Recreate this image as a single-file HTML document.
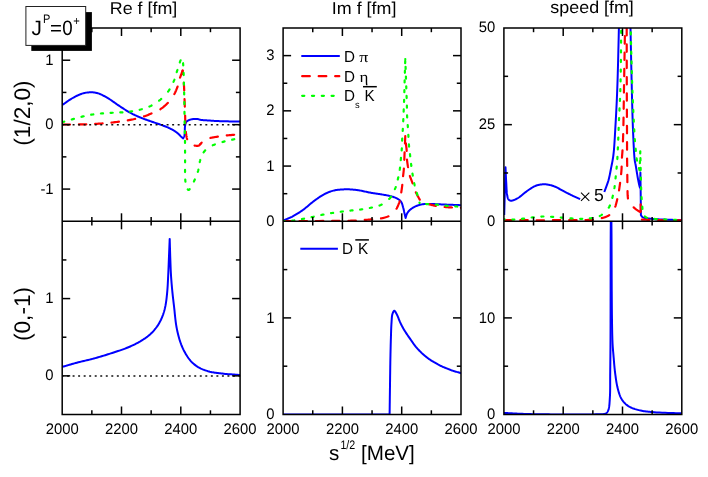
<!DOCTYPE html>
<html><head><meta charset="utf-8"><title>chart</title>
<style>
html,body{margin:0;padding:0;background:#fff;}
body{width:708px;height:477px;overflow:hidden;}
svg{display:block;will-change:transform;}
svg text{font-family:"Liberation Sans",sans-serif;fill:#000;text-rendering:geometricPrecision;}
</style></head><body>
<svg width="708" height="477" viewBox="0 0 708 477">
<rect width="100%" height="100%" fill="#fff"/>
<defs>
<clipPath id="c1"><rect x="62.20" y="28.00" width="177.90" height="193.30"/></clipPath>
<clipPath id="c4"><rect x="62.20" y="221.30" width="177.90" height="193.20"/></clipPath>
<clipPath id="c2"><rect x="283.10" y="28.00" width="177.90" height="193.30"/></clipPath>
<clipPath id="c5"><rect x="283.10" y="221.30" width="177.90" height="193.20"/></clipPath>
<clipPath id="c3"><rect x="503.90" y="28.00" width="177.90" height="193.30"/></clipPath>
<clipPath id="c6"><rect x="503.90" y="221.30" width="177.90" height="193.20"/></clipPath>
</defs>
<g clip-path="url(#c1)"><path d="M62.20 105.00 L63.07 104.41 L63.95 103.81 L64.82 103.20 L65.69 102.59 L66.56 101.97 L67.43 101.36 L68.30 100.76 L69.17 100.17 L70.05 99.60 L70.93 99.04 L71.81 98.51 L72.70 98.00 L73.54 97.54 L74.39 97.08 L75.24 96.63 L76.10 96.19 L76.96 95.77 L77.82 95.36 L78.68 94.97 L79.53 94.60 L80.38 94.25 L81.23 93.94 L82.07 93.65 L82.90 93.40 L83.62 93.21 L84.33 93.03 L85.05 92.88 L85.76 92.74 L86.47 92.63 L87.18 92.53 L87.88 92.45 L88.57 92.39 L89.27 92.34 L89.95 92.31 L90.63 92.30 L91.30 92.30 L91.90 92.31 L92.49 92.34 L93.08 92.37 L93.65 92.42 L94.22 92.49 L94.79 92.56 L95.36 92.66 L95.93 92.77 L96.51 92.90 L97.09 93.05 L97.69 93.21 L98.30 93.40 L99.09 93.67 L99.89 93.98 L100.71 94.33 L101.54 94.71 L102.39 95.12 L103.23 95.55 L104.09 96.00 L104.94 96.46 L105.79 96.94 L106.63 97.43 L107.47 97.91 L108.30 98.40 L109.16 98.92 L110.02 99.47 L110.87 100.04 L111.72 100.62 L112.57 101.22 L113.42 101.82 L114.26 102.43 L115.11 103.04 L115.95 103.64 L116.80 104.24 L117.65 104.83 L118.50 105.40 L119.34 105.95 L120.18 106.51 L121.01 107.06 L121.85 107.61 L122.69 108.16 L123.52 108.70 L124.36 109.24 L125.20 109.77 L126.05 110.29 L126.90 110.81 L127.75 111.31 L128.60 111.80 L129.44 112.27 L130.27 112.73 L131.11 113.18 L131.94 113.62 L132.78 114.06 L133.63 114.48 L134.47 114.90 L135.33 115.32 L136.18 115.72 L137.05 116.12 L137.92 116.51 L138.80 116.90 L139.72 117.29 L140.66 117.67 L141.60 118.04 L142.56 118.40 L143.52 118.75 L144.49 119.10 L145.45 119.44 L146.42 119.78 L147.38 120.11 L148.33 120.44 L149.27 120.77 L150.20 121.10 L151.06 121.41 L151.92 121.71 L152.78 122.00 L153.64 122.29 L154.48 122.58 L155.33 122.86 L156.17 123.15 L157.01 123.43 L157.84 123.72 L158.66 124.01 L159.49 124.30 L160.30 124.60 L161.07 124.88 L161.83 125.16 L162.59 125.43 L163.35 125.71 L164.10 125.99 L164.85 126.26 L165.59 126.55 L166.33 126.84 L167.06 127.14 L167.78 127.45 L168.49 127.77 L169.20 128.10 L169.88 128.43 L170.56 128.78 L171.25 129.13 L171.93 129.49 L172.60 129.86 L173.27 130.24 L173.92 130.62 L174.56 131.01 L175.18 131.40 L175.78 131.80 L176.35 132.20 L176.90 132.60 L177.33 132.94 L177.76 133.30 L178.17 133.67 L178.56 134.04 L178.95 134.42 L179.32 134.80 L179.68 135.17 L180.03 135.54 L180.36 135.89 L180.69 136.21 L181.00 136.52 L181.30 136.80 L181.48 136.96 L181.66 137.12 L181.82 137.26 L181.99 137.40 L182.14 137.53 L182.29 137.65 L182.44 137.78 L182.59 137.90 L182.74 138.02 L182.89 138.14 L183.04 138.27 L183.20 138.40 L183.31 138.13 L183.42 137.87 L183.54 137.62 L183.66 137.37 L183.78 137.12 L183.89 136.87 L184.01 136.61 L184.12 136.34 L184.22 136.06 L184.32 135.76 L184.42 135.44 L184.50 135.10 L184.61 134.47 L184.69 133.76 L184.74 132.98 L184.78 132.15 L184.80 131.28 L184.81 130.39 L184.83 129.50 L184.84 128.63 L184.88 127.78 L184.92 126.99 L185.00 126.25 L185.10 125.60 L185.18 125.21 L185.25 124.84 L185.32 124.48 L185.39 124.13 L185.46 123.80 L185.55 123.48 L185.64 123.17 L185.75 122.88 L185.88 122.59 L186.03 122.32 L186.20 122.05 L186.40 121.80 L186.65 121.53 L186.94 121.28 L187.25 121.04 L187.59 120.82 L187.95 120.61 L188.33 120.41 L188.73 120.23 L189.13 120.06 L189.55 119.91 L189.96 119.76 L190.38 119.62 L190.80 119.50 L191.29 119.37 L191.80 119.26 L192.34 119.17 L192.89 119.10 L193.45 119.04 L194.01 118.99 L194.58 118.96 L195.14 118.95 L195.69 118.94 L196.22 118.95 L196.72 118.97 L197.20 119.00 L197.55 119.04 L197.88 119.09 L198.19 119.15 L198.49 119.23 L198.79 119.31 L199.08 119.40 L199.37 119.50 L199.67 119.59 L199.98 119.68 L200.30 119.76 L200.64 119.84 L201.00 119.90 L201.54 119.98 L202.10 120.05 L202.69 120.11 L203.29 120.16 L203.92 120.21 L204.56 120.25 L205.22 120.29 L205.88 120.33 L206.56 120.37 L207.24 120.41 L207.92 120.46 L208.60 120.50 L209.40 120.55 L210.21 120.61 L211.03 120.66 L211.87 120.72 L212.72 120.77 L213.58 120.83 L214.44 120.88 L215.31 120.93 L216.18 120.97 L217.05 121.02 L217.93 121.06 L218.80 121.10 L219.72 121.14 L220.64 121.17 L221.58 121.20 L222.52 121.23 L223.46 121.25 L224.40 121.28 L225.35 121.30 L226.29 121.32 L227.23 121.34 L228.16 121.36 L229.09 121.38 L230.00 121.40 L230.86 121.42 L231.71 121.44 L232.56 121.46 L233.41 121.47 L234.25 121.49 L235.08 121.51 L235.92 121.52 L236.75 121.54 L237.59 121.55 L238.42 121.57 L239.26 121.58 L240.10 121.60" fill="none" stroke="#0000ff" stroke-width="2.0" stroke-linejoin="round" stroke-linecap="butt"/></g>
<g clip-path="url(#c1)"><path d="M62.58 124.50 L63.86 124.49 L65.52 124.49 L67.19 124.49 L68.87 124.49 L70.02 124.49 M78.88 124.46 L80.41 124.43 L82.00 124.40 L83.43 124.36 L84.84 124.33 L86.23 124.28 L86.32 124.28 M95.18 123.90 L95.77 123.87 L97.13 123.79 L98.50 123.70 L99.88 123.61 L101.25 123.51 L102.62 123.41 M111.48 122.60 L112.25 122.52 L113.63 122.36 L115.00 122.20 L116.39 122.03 L117.79 121.85 L118.92 121.71 M127.78 120.39 L128.92 120.19 L130.23 119.95 L131.50 119.70 L132.56 119.48 L133.60 119.26 L134.63 119.03 L135.22 118.89 M144.08 116.41 L144.66 116.21 L145.37 115.95 L146.06 115.70 L146.74 115.44 L147.41 115.17 L148.07 114.90 L148.73 114.63 L149.39 114.35 L150.06 114.07 L150.72 113.79 L151.40 113.50 L151.52 113.45 M160.38 109.25 L160.43 109.22 L161.15 108.72 L161.88 108.19 L162.61 107.63 L163.33 107.05 L164.04 106.45 L164.74 105.84 L165.43 105.22 L166.10 104.60 L166.76 103.96 L167.39 103.33 L167.81 102.90 M174.36 94.04 L174.46 93.86 L174.81 93.17 L175.16 92.47 L175.49 91.77 L175.81 91.06 L176.12 90.35 L176.41 89.64 L176.70 88.93 L176.98 88.21 L177.24 87.50 L177.50 86.80 L177.57 86.60 M180.04 77.74 L180.15 77.43 L180.38 76.75 L180.62 76.07 L180.86 75.38 L181.11 74.70 L181.36 74.02 L181.61 73.33 L181.86 72.65 L182.11 71.97 L182.36 71.28 L182.60 70.60" fill="none" stroke="#ff0000" stroke-width="2.2" stroke-linejoin="round" stroke-linecap="round"/></g>
<g clip-path="url(#c1)"><path d="M182.60 70.60 L182.71 71.76 L182.82 72.92 L182.94 74.02 M183.78 82.88 L183.82 83.34 L183.90 84.50 L183.97 85.65 L184.04 86.79 L184.10 87.92 L184.15 89.06 L184.20 90.19 L184.21 90.32 M184.53 99.18 L184.55 99.63 L184.61 100.99 L184.66 102.36 L184.71 103.76 L184.76 105.16 L184.81 106.57 L184.82 106.62 M185.12 115.48 L185.14 115.97 L185.17 117.15 L185.19 118.33 L185.22 119.51 L185.25 120.68 L185.27 121.83 L185.30 122.92 M185.83 131.78 L185.86 131.98 L185.91 132.43 L185.97 132.88 L186.03 133.34 L186.10 133.80 L186.16 134.24 L186.22 134.68 L186.28 135.11 L186.33 135.55 L186.39 135.98 L186.46 136.41 L186.53 136.84 L186.62 137.26 L186.71 137.68 L186.82 138.09 L186.95 138.50 L187.10 138.90 L187.23 139.22 M194.56 145.56 L194.67 145.58 L195.06 145.65 L195.46 145.72 L195.87 145.77 L196.29 145.81 L196.69 145.84 L197.10 145.85 L197.48 145.84 L197.85 145.81 L198.20 145.76 L198.52 145.69 L198.80 145.60 L198.98 145.52 L199.14 145.41 L199.29 145.30 L199.43 145.17 L199.56 145.03 L199.68 144.89 L199.80 144.74 L199.92 144.58 L200.03 144.43 L200.15 144.28 L200.27 144.14 L200.40 144.00" fill="none" stroke="#ff0000" stroke-width="2.2" stroke-linejoin="round" stroke-linecap="round"/></g>
<g clip-path="url(#c1)"><path d="M200.40 144.00 L200.70 143.70 L200.98 143.40 L201.27 143.09 L201.55 142.78 L201.64 142.68 M210.45 137.94 L210.74 137.87 L211.38 137.73 L212.04 137.59 L212.71 137.46 L213.40 137.35 L214.08 137.23 L214.77 137.12 L215.46 137.02 L216.15 136.91 L216.83 136.81 L217.50 136.70 L217.89 136.64 M226.75 135.45 L226.98 135.43 L227.80 135.34 L228.64 135.26 L229.48 135.18 L230.33 135.10 L231.16 135.03 L231.99 134.96 L232.79 134.89 L233.56 134.82 L234.19 134.77" fill="none" stroke="#ff0000" stroke-width="2.2" stroke-linejoin="round" stroke-linecap="round"/></g>
<g clip-path="url(#c1)"><path d="M62.20 122.20 L63.02 121.97 L63.85 121.73 L64.24 121.62 M71.80 119.48 L72.10 119.40 L72.94 119.16 L73.78 118.92 L73.94 118.88 M81.50 116.77 L82.20 116.60 L83.00 116.41 L83.64 116.26 M91.20 114.70 L91.80 114.60 L92.63 114.47 L93.34 114.36 M100.90 113.49 L101.07 113.48 L101.90 113.40 L102.71 113.33 L103.04 113.30 M110.60 112.85 L110.70 112.84 L111.50 112.80 L112.32 112.76 L112.74 112.74 M120.30 112.47 L120.58 112.45 L121.40 112.40 L122.22 112.34 L122.44 112.32 M130.00 111.57 L130.39 111.52 L131.20 111.40 L132.00 111.28 L132.14 111.26 M139.70 109.76 L139.91 109.71 L140.70 109.50 L141.54 109.27 L141.84 109.18 M149.40 106.55 L149.98 106.29 L150.80 105.90 L151.54 105.52 M159.10 100.71 L159.85 100.12 L160.60 99.50 L161.24 98.94 M168.08 91.52 L168.60 90.80 L169.13 90.03 L169.56 89.38 M173.50 81.82 L173.54 81.75 L173.90 80.90 L174.23 80.08 L174.38 79.68 M176.72 72.12 L176.84 71.73 L177.10 70.90 L177.37 70.06 L177.39 69.98 M179.82 62.42 L179.83 62.37 L180.07 61.66 L180.30 61.00 L180.43 60.63 L180.56 60.28" fill="none" stroke="#00ff00" stroke-width="2.2" stroke-linejoin="round" stroke-linecap="round"/></g>
<g clip-path="url(#c1)"><path d="M183.04 63.23 L183.09 63.62 L183.18 64.39 L183.25 65.18 L183.26 65.37 M183.61 72.93 L183.63 73.59 L183.67 74.36 L183.69 75.07 M183.91 82.63 L183.93 83.58 L183.96 84.77 M184.14 92.33 L184.18 93.82 L184.19 94.47 M184.34 102.03 L184.36 103.26 L184.37 104.17 M184.48 111.73 L184.50 113.29 L184.51 113.87 M184.63 121.43 L184.63 121.66 L184.66 123.33 L184.67 123.57 M184.84 131.13 L184.85 131.62 L184.88 133.27 M185.01 140.83 L185.02 141.76 L185.03 142.97 M185.06 150.53 L185.06 150.68 L185.07 152.48 L185.07 152.67 M185.09 160.23 L185.10 161.30 L185.10 162.37 M185.06 169.93 L185.05 171.48 L185.05 172.07 M185.25 179.63 L185.30 180.30 L185.37 180.99 L185.43 181.65 L185.44 181.77 M187.72 189.33 L187.84 189.49 L188.03 189.70 L188.22 189.86 L188.41 189.96 L188.60 190.00 L188.79 189.97 L188.98 189.87 L189.18 189.72 L189.38 189.51 L189.58 189.26 L189.70 189.09 M193.89 181.53 L193.93 181.45 L194.22 180.83 L194.50 180.20 L194.83 179.46 L194.86 179.39 M197.80 171.83 L197.96 171.31 L198.20 170.50 L198.40 169.73 L198.41 169.69 M199.75 162.13 L199.76 162.07 L199.90 161.30 L200.03 160.86 L200.15 160.41 L200.26 159.99 M203.57 152.43 L203.63 152.35 L203.94 151.92 L204.25 151.50 L204.58 151.09 L204.90 150.70 L205.21 150.34 L205.25 150.29 M212.75 145.25 L213.20 145.08 L213.72 144.90 L214.25 144.70 L214.80 144.50 L214.89 144.47 M222.45 142.03 L223.00 141.87 L223.86 141.63 L224.59 141.43 M232.15 139.68 L232.67 139.57 L233.49 139.40 L234.26 139.25 L234.29 139.24" fill="none" stroke="#00ff00" stroke-width="2.2" stroke-linejoin="round" stroke-linecap="round"/></g>
<g clip-path="url(#c2)"><path d="M283.20 221.20 L283.30 221.12 L283.38 221.04 L283.47 220.96 L283.55 220.88 L283.63 220.80 L283.72 220.72 L283.81 220.64 L283.90 220.56 L284.01 220.47 L284.12 220.39 L284.25 220.30 L284.40 220.20 L284.82 219.96 L285.34 219.70 L285.93 219.43 L286.58 219.14 L287.29 218.84 L288.04 218.53 L288.82 218.20 L289.61 217.86 L290.41 217.51 L291.20 217.15 L291.97 216.78 L292.70 216.40 L293.53 215.95 L294.36 215.48 L295.21 214.99 L296.06 214.48 L296.92 213.96 L297.79 213.43 L298.65 212.88 L299.51 212.32 L300.37 211.75 L301.22 211.18 L302.06 210.59 L302.90 210.00 L303.76 209.37 L304.61 208.71 L305.45 208.04 L306.29 207.35 L307.13 206.64 L307.96 205.93 L308.79 205.22 L309.63 204.52 L310.46 203.81 L311.30 203.13 L312.15 202.45 L313.00 201.80 L313.84 201.17 L314.67 200.55 L315.51 199.92 L316.35 199.30 L317.19 198.68 L318.04 198.07 L318.89 197.48 L319.74 196.90 L320.60 196.34 L321.46 195.80 L322.33 195.29 L323.20 194.80 L324.03 194.36 L324.86 193.93 L325.70 193.51 L326.55 193.12 L327.39 192.73 L328.24 192.37 L329.10 192.02 L329.95 191.69 L330.81 191.38 L331.67 191.10 L332.54 190.84 L333.40 190.60 L334.25 190.40 L335.12 190.22 L336.01 190.07 L336.91 189.95 L337.81 189.84 L338.70 189.75 L339.59 189.67 L340.45 189.60 L341.29 189.55 L342.10 189.50 L342.87 189.45 L343.60 189.40 L344.07 189.37 L344.51 189.34 L344.93 189.32 L345.33 189.30 L345.72 189.28 L346.10 189.27 L346.48 189.26 L346.87 189.26 L347.27 189.26 L347.69 189.27 L348.13 189.28 L348.60 189.30 L349.32 189.33 L350.09 189.38 L350.89 189.43 L351.72 189.49 L352.58 189.56 L353.45 189.64 L354.34 189.73 L355.24 189.83 L356.14 189.94 L357.04 190.05 L357.92 190.17 L358.80 190.30 L359.72 190.45 L360.65 190.62 L361.58 190.80 L362.52 191.00 L363.46 191.20 L364.40 191.41 L365.35 191.62 L366.29 191.83 L367.22 192.04 L368.16 192.24 L369.08 192.43 L370.00 192.60 L370.87 192.75 L371.73 192.90 L372.58 193.03 L373.43 193.16 L374.28 193.29 L375.13 193.42 L375.98 193.54 L376.82 193.67 L377.67 193.79 L378.51 193.92 L379.35 194.06 L380.20 194.20 L381.05 194.34 L381.91 194.49 L382.78 194.63 L383.65 194.77 L384.52 194.91 L385.38 195.06 L386.24 195.21 L387.09 195.37 L387.92 195.54 L388.73 195.71 L389.53 195.90 L390.30 196.10 L390.94 196.27 L391.58 196.45 L392.21 196.63 L392.84 196.82 L393.45 197.01 L394.05 197.20 L394.64 197.41 L395.21 197.62 L395.77 197.85 L396.30 198.08 L396.81 198.33 L397.30 198.60 L397.68 198.82 L398.05 199.05 L398.41 199.28 L398.76 199.51 L399.10 199.75 L399.42 200.01 L399.73 200.27 L400.03 200.54 L400.31 200.83 L400.59 201.13 L400.85 201.46 L401.10 201.80 L401.37 202.23 L401.61 202.69 L401.84 203.18 L402.04 203.70 L402.23 204.24 L402.40 204.79 L402.56 205.35 L402.72 205.91 L402.86 206.47 L403.01 207.03 L403.15 207.57 L403.30 208.10 L403.44 208.59 L403.56 209.09 L403.68 209.58 L403.79 210.08 L403.90 210.58 L404.00 211.07 L404.11 211.56 L404.20 212.05 L404.30 212.52 L404.40 212.99 L404.50 213.45 L404.60 213.90 L404.69 214.27 L404.77 214.62 L404.86 214.98 L404.94 215.32 L405.02 215.66 L405.11 215.99 L405.19 216.33 L405.27 216.66 L405.35 216.99 L405.43 217.32 L405.52 217.66 L405.60 218.00 L405.70 217.66 L405.80 217.31 L405.90 216.96 L405.99 216.61 L406.08 216.26 L406.18 215.91 L406.27 215.57 L406.38 215.22 L406.49 214.88 L406.61 214.55 L406.75 214.22 L406.90 213.90 L407.06 213.59 L407.23 213.28 L407.40 212.97 L407.59 212.67 L407.78 212.37 L407.98 212.08 L408.18 211.79 L408.40 211.51 L408.63 211.22 L408.88 210.95 L409.13 210.67 L409.40 210.40 L409.74 210.08 L410.11 209.76 L410.49 209.44 L410.90 209.13 L411.32 208.82 L411.75 208.52 L412.19 208.23 L412.65 207.94 L413.11 207.67 L413.57 207.40 L414.04 207.14 L414.50 206.90 L414.99 206.66 L415.49 206.42 L416.00 206.19 L416.52 205.97 L417.04 205.76 L417.57 205.56 L418.11 205.38 L418.65 205.20 L419.18 205.03 L419.72 204.87 L420.26 204.73 L420.80 204.60 L421.32 204.49 L421.83 204.38 L422.34 204.30 L422.85 204.22 L423.36 204.16 L423.87 204.10 L424.39 204.05 L424.92 204.01 L425.46 203.98 L426.02 203.95 L426.60 203.92 L427.20 203.90 L428.04 203.88 L428.92 203.88 L429.83 203.89 L430.78 203.92 L431.75 203.96 L432.73 204.00 L433.73 204.05 L434.73 204.11 L435.72 204.16 L436.70 204.21 L437.66 204.26 L438.60 204.30 L439.47 204.33 L440.32 204.36 L441.17 204.40 L442.01 204.43 L442.84 204.46 L443.68 204.50 L444.51 204.53 L445.35 204.56 L446.20 204.60 L447.05 204.63 L447.92 204.66 L448.80 204.70 L449.78 204.74 L450.77 204.78 L451.77 204.82 L452.79 204.86 L453.81 204.90 L454.83 204.95 L455.86 204.99 L456.89 205.03 L457.92 205.07 L458.95 205.12 L459.98 205.16 L461.00 205.20" fill="none" stroke="#0000ff" stroke-width="2.0" stroke-linejoin="round" stroke-linecap="butt"/></g>
<g clip-path="url(#c2)"><path d="M284.00 221.00 L289.40 220.99 L290.67 220.99 M299.53 220.98 L300.86 220.98 L306.75 220.98 L306.97 220.98 M315.83 220.98 L318.46 220.98 L323.27 220.97 M332.13 220.95 L334.58 220.94 L339.24 220.90 L339.57 220.90 M348.43 220.77 L348.43 220.77 L349.76 220.74 L350.99 220.70 L352.15 220.67 L353.23 220.63 L354.26 220.59 L355.25 220.55 L355.87 220.52 M364.73 219.96 L365.26 219.92 L365.99 219.86 L366.72 219.79 L367.46 219.73 L368.22 219.67 L369.00 219.60 L369.90 219.53 L370.81 219.47 L371.75 219.41 L372.17 219.39 M381.03 218.44 L381.80 218.28 L382.61 218.10 L383.41 217.92 L384.20 217.72 L384.98 217.51 L385.74 217.29 L386.48 217.06 L387.19 216.81 L387.87 216.55 L388.47 216.30 M396.51 208.70 L396.81 208.16 L397.16 207.47 L397.52 206.73 L397.87 205.97 L398.21 205.18 L398.54 204.38 L398.85 203.57 L399.15 202.77 L399.42 201.99 L399.67 201.26 M401.27 192.40 L401.33 191.99 L401.45 191.19 L401.56 190.39 L401.68 189.57 L401.80 188.75 L401.91 187.93 L402.02 187.12 L402.12 186.31 L402.22 185.52 L402.29 184.96 M403.09 176.10 L403.14 175.65 L403.22 174.97 L403.29 174.30 L403.37 173.62 L403.46 172.92 L403.54 172.22 L403.62 171.50 L403.69 170.76 L403.77 170.00 L403.84 169.21 L403.88 168.66 M404.32 159.80 L404.34 159.28 L404.39 157.87 L404.44 156.46 L404.49 155.05 L404.54 153.66 L404.60 152.36 M404.97 143.50 L405.01 142.69 L405.07 141.31 L405.13 139.93 L405.18 138.55 L405.24 137.18 L405.29 136.06" fill="none" stroke="#ff0000" stroke-width="2.2" stroke-linejoin="round" stroke-linecap="round"/></g>
<g clip-path="url(#c2)"><path d="M405.89 143.38 L405.94 143.86 L406.02 144.57 L406.10 145.28 L406.19 145.99 L406.27 146.72 L406.36 147.44 L406.44 148.16 L406.52 148.88 L406.59 149.60 L406.65 150.30 L406.69 150.82 M407.00 159.68 L407.04 160.06 L407.12 160.80 L407.21 161.55 L407.31 162.31 L407.41 163.07 L407.52 163.83 L407.63 164.58 L407.75 165.33 L407.87 166.07 L407.98 166.79 L408.04 167.12 M409.89 175.98 L409.92 176.10 L410.16 176.80 L410.41 177.52 L410.67 178.23 L410.95 178.95 L411.22 179.68 L411.50 180.40 L411.78 181.13 L412.06 181.85 L412.33 182.58 L412.60 183.30 L412.64 183.42 M415.84 192.28 L416.12 192.91 L416.46 193.62 L416.82 194.32 L417.18 195.01 L417.55 195.70 L417.92 196.39 L418.31 197.07 L418.69 197.75 L419.07 198.44 L419.45 199.12 L419.78 199.72 M428.28 204.04 L428.50 204.10 L429.06 204.25 L429.65 204.41 L430.26 204.58 L430.88 204.75 L431.52 204.92 L432.17 205.10 L432.83 205.27 L433.49 205.43 L434.15 205.59 L434.80 205.74 L435.46 205.88 L435.72 205.93 M444.58 206.98 L445.06 207.02 L445.74 207.08 L446.43 207.14 L447.11 207.19 L447.80 207.24 L448.50 207.29 L449.19 207.34 L449.89 207.38 L450.59 207.42 L451.30 207.46 L452.00 207.50 L452.02 207.50 M460.88 207.80 L461.00 207.80" fill="none" stroke="#ff0000" stroke-width="2.2" stroke-linejoin="round" stroke-linecap="round"/></g>
<g clip-path="url(#c2)"><path d="M284.00 221.20 L284.67 221.15 M292.23 220.62 L292.52 220.59 L293.30 220.50 L294.10 220.40 L294.37 220.36 M301.93 219.08 L302.10 219.05 L302.90 218.90 L303.69 218.75 L304.07 218.68 M311.63 217.16 L312.40 217.00 L313.24 216.82 L313.77 216.70 M321.33 214.97 L321.76 214.87 L322.60 214.70 L323.40 214.54 L323.47 214.53 M331.03 213.17 L331.30 213.13 L332.10 213.00 L332.91 212.87 L333.17 212.83 M340.73 211.76 L341.08 211.71 L341.90 211.60 L342.72 211.49 L342.87 211.47 M350.43 210.56 L350.98 210.49 L351.80 210.40 L352.57 210.32 M360.13 209.56 L360.61 209.50 L361.40 209.40 L362.17 209.29 L362.27 209.28 M369.83 207.97 L370.60 207.80 L371.44 207.62 L371.97 207.51 M379.53 205.56 L379.99 205.37 L380.80 205.00 L381.65 204.56 L381.67 204.55 M389.22 198.88 L389.67 198.42 L390.30 197.70 L390.85 197.01 L391.04 196.74 M394.89 189.18 L395.20 188.40 L395.51 187.61 L395.71 187.04 M397.79 179.48 L397.80 179.43 L398.00 178.60 L398.19 177.77 L398.29 177.34 M399.72 169.78 L399.78 169.44 L399.90 168.60 L400.01 167.77 L400.03 167.64 M400.76 160.08 L400.82 159.43 L400.90 158.60 L400.96 157.94 M401.69 150.38 L401.74 149.70 L401.80 148.90 L401.84 148.24 M402.14 140.68 L402.16 140.20 L402.20 139.40 L402.24 138.58 L402.25 138.54 M402.71 130.98 L402.75 130.32 L402.80 129.50 L402.84 128.84 M403.23 121.28 L403.26 120.51 L403.30 119.70 L403.33 119.14 M403.64 111.58 L403.67 110.99 L403.70 110.20 L403.73 109.44 M404.05 101.88 L404.07 101.56 L404.10 100.60 L404.13 99.74 M404.35 92.18 L404.39 90.50 L404.40 90.04 M404.60 82.48 L404.63 81.27 L404.65 80.34 M404.87 72.78 L404.89 72.12 L404.93 70.74 L404.93 70.64 M405.17 63.08 L405.18 62.91 L405.22 61.62 L405.24 60.94" fill="none" stroke="#00ff00" stroke-width="2.2" stroke-linejoin="round" stroke-linecap="round"/></g>
<g clip-path="url(#c2)"><path d="M405.30 59.00 L405.31 59.27 M405.57 66.83 L405.60 67.77 L405.65 68.97 M405.91 76.53 L405.91 76.53 L405.98 78.67 M406.24 86.23 L406.26 86.86 L406.32 88.37 M406.58 95.93 L406.59 96.16 L406.65 97.96 L406.65 98.07 M406.89 105.63 L406.90 106.10 L406.92 107.08 L406.94 107.77 M407.06 115.33 L407.07 115.47 L407.10 116.30 L407.14 117.12 L407.16 117.47 M407.72 125.03 L407.74 125.29 L407.80 126.10 L407.85 126.91 L407.87 127.17 M408.33 134.73 L408.35 134.99 L408.40 135.80 L408.45 136.61 L408.46 136.87 M408.91 144.43 L408.93 144.69 L409.00 145.50 L409.07 146.32 L409.10 146.57 M409.96 154.13 L410.01 154.49 L410.10 155.30 L410.19 156.11 L410.21 156.27 M411.05 163.83 L411.10 164.20 L411.20 165.00 L411.30 165.80 L411.33 165.97 M412.44 173.53 L412.47 173.70 L412.60 174.50 L412.74 175.33 L412.80 175.67 M414.19 183.23 L414.31 183.78 L414.50 184.60 L414.68 185.36 L414.69 185.37 M416.84 192.93 L417.00 193.50 L417.22 194.28 L417.43 195.06 L417.43 195.07 M419.50 202.63 L419.60 203.00" fill="none" stroke="#00ff00" stroke-width="2.2" stroke-linejoin="round" stroke-linecap="round"/></g>
<g clip-path="url(#c2)"><path d="M426.13 204.08 L426.41 204.08 L426.79 204.09 L427.20 204.10 L427.82 204.13 L428.27 204.14 M435.83 204.59 L436.00 204.60 L436.83 204.68 L437.67 204.77 L437.97 204.80 M445.53 205.72 L446.30 205.80 L447.16 205.88 L447.67 205.92 M455.23 206.43 L455.70 206.46 L456.40 206.50 L456.85 206.52 L457.27 206.55 L457.37 206.55" fill="none" stroke="#00ff00" stroke-width="2.2" stroke-linejoin="round" stroke-linecap="round"/></g>
<g clip-path="url(#c3)"><path d="M504.20 215.00 L504.23 213.77 L504.26 212.57 L504.30 211.39 L504.33 210.21 L504.36 209.04 L504.39 207.86 L504.42 206.66 L504.45 205.43 L504.49 204.16 L504.52 202.83 L504.56 201.45 L504.60 200.00 L504.66 197.72 L504.73 195.28 L504.80 192.71 L504.87 190.03 L504.95 187.27 L505.03 184.44 L505.11 181.56 L505.19 178.67 L505.27 175.77 L505.35 172.90 L505.42 170.07 L505.50 167.30 L505.56 168.53 L505.61 169.76 L505.67 170.99 L505.72 172.23 L505.77 173.46 L505.83 174.69 L505.88 175.92 L505.94 177.15 L506.00 178.37 L506.06 179.59 L506.13 180.80 L506.20 182.00 L506.27 183.16 L506.33 184.36 L506.39 185.58 L506.45 186.81 L506.51 188.03 L506.57 189.24 L506.65 190.42 L506.73 191.55 L506.82 192.63 L506.93 193.64 L507.06 194.57 L507.20 195.40 L507.28 195.83 L507.37 196.24 L507.45 196.64 L507.53 197.02 L507.61 197.38 L507.71 197.72 L507.80 198.05 L507.91 198.35 L508.04 198.64 L508.17 198.91 L508.33 199.17 L508.50 199.40 L508.65 199.57 L508.81 199.73 L508.99 199.88 L509.17 200.02 L509.36 200.15 L509.55 200.27 L509.75 200.37 L509.96 200.46 L510.17 200.54 L510.38 200.61 L510.59 200.66 L510.80 200.70 L511.02 200.72 L511.25 200.73 L511.48 200.71 L511.71 200.68 L511.95 200.64 L512.19 200.58 L512.43 200.52 L512.68 200.44 L512.93 200.36 L513.18 200.28 L513.44 200.19 L513.70 200.10 L514.04 199.98 L514.37 199.86 L514.71 199.73 L515.06 199.59 L515.41 199.44 L515.76 199.27 L516.13 199.10 L516.50 198.91 L516.88 198.71 L517.28 198.49 L517.68 198.25 L518.10 198.00 L518.81 197.53 L519.58 196.99 L520.38 196.37 L521.21 195.71 L522.07 195.01 L522.95 194.28 L523.84 193.55 L524.74 192.81 L525.63 192.10 L526.51 191.42 L527.37 190.78 L528.20 190.20 L528.90 189.73 L529.60 189.27 L530.29 188.81 L530.98 188.36 L531.67 187.93 L532.35 187.51 L533.03 187.11 L533.72 186.73 L534.41 186.38 L535.10 186.06 L535.80 185.76 L536.50 185.50 L537.15 185.29 L537.81 185.09 L538.47 184.92 L539.13 184.78 L539.79 184.65 L540.46 184.54 L541.12 184.45 L541.79 184.39 L542.47 184.34 L543.14 184.31 L543.82 184.29 L544.50 184.30 L545.22 184.33 L545.93 184.37 L546.65 184.44 L547.38 184.53 L548.10 184.65 L548.83 184.78 L549.56 184.93 L550.29 185.11 L551.04 185.30 L551.78 185.51 L552.54 185.75 L553.30 186.00 L554.24 186.35 L555.21 186.75 L556.19 187.20 L557.19 187.69 L558.19 188.21 L559.20 188.75 L560.20 189.30 L561.20 189.85 L562.18 190.40 L563.15 190.93 L564.09 191.43 L565.00 191.90 L565.75 192.28 L566.49 192.65 L567.22 193.02 L567.93 193.39 L568.64 193.75 L569.34 194.10 L570.03 194.45 L570.72 194.79 L571.39 195.13 L572.07 195.46 L572.73 195.78 L573.40 196.10 L573.98 196.37 L574.56 196.64 L575.12 196.90 L575.68 197.15 L576.24 197.40 L576.79 197.64 L577.34 197.88 L577.89 198.12 L578.44 198.37 L578.99 198.61 L579.54 198.85 L580.10 199.10" fill="none" stroke="#0000ff" stroke-width="2.0" stroke-linejoin="round" stroke-linecap="butt"/></g>
<g clip-path="url(#c3)"><path d="M604.30 192.00 L604.66 191.02 L605.02 190.04 L605.39 189.05 L605.76 188.07 L606.13 187.09 L606.50 186.11 L606.87 185.13 L607.22 184.15 L607.57 183.16 L607.90 182.18 L608.21 181.19 L608.50 180.20 L608.76 179.23 L609.01 178.27 L609.24 177.31 L609.46 176.34 L609.67 175.38 L609.86 174.42 L610.06 173.45 L610.24 172.47 L610.43 171.49 L610.62 170.50 L610.81 169.51 L611.00 168.50 L611.21 167.43 L611.43 166.37 L611.64 165.32 L611.85 164.28 L612.06 163.22 L612.27 162.15 L612.47 161.06 L612.67 159.94 L612.86 158.78 L613.05 157.58 L613.23 156.32 L613.40 155.00 L613.64 152.93 L613.86 150.73 L614.06 148.41 L614.25 146.00 L614.42 143.51 L614.59 140.94 L614.75 138.33 L614.90 135.68 L615.05 133.00 L615.20 130.32 L615.35 127.65 L615.50 125.00 L615.67 122.08 L615.84 119.16 L616.00 116.23 L616.16 113.29 L616.31 110.31 L616.46 107.30 L616.61 104.25 L616.76 101.14 L616.90 97.97 L617.03 94.73 L617.17 91.41 L617.30 88.00 L617.46 83.37 L617.63 78.33 L617.78 72.99 L617.94 67.45 L618.09 61.81 L618.23 56.17 L618.36 50.63 L618.49 45.29 L618.61 40.26 L618.72 35.63 L618.81 31.51 L618.90 28.00 L618.93 26.58 L618.97 25.28 L618.99 24.08 L619.02 22.96 L619.05 21.91 L619.07 20.91 L619.09 19.94 L619.11 18.98 L619.13 18.03 L619.15 17.06 L619.18 16.05 L619.20 15.00" fill="none" stroke="#0000ff" stroke-width="2.0" stroke-linejoin="round" stroke-linecap="butt"/></g>
<g clip-path="url(#c3)"><path d="M630.30 15.00 L630.32 16.05 L630.33 17.06 L630.34 18.03 L630.36 18.98 L630.37 19.94 L630.38 20.91 L630.40 21.91 L630.41 22.96 L630.43 24.08 L630.45 25.28 L630.47 26.58 L630.50 28.00 L630.57 31.50 L630.65 35.59 L630.74 40.17 L630.84 45.15 L630.95 50.44 L631.07 55.93 L631.19 61.54 L631.31 67.17 L631.44 72.72 L631.56 78.11 L631.68 83.23 L631.80 88.00 L631.89 91.78 L631.98 95.51 L632.07 99.19 L632.16 102.82 L632.25 106.39 L632.34 109.91 L632.43 113.38 L632.53 116.80 L632.64 120.17 L632.75 123.50 L632.87 126.77 L633.00 130.00 L633.12 132.76 L633.24 135.58 L633.36 138.43 L633.49 141.28 L633.62 144.10 L633.75 146.85 L633.89 149.50 L634.04 152.01 L634.20 154.35 L634.36 156.48 L634.52 158.38 L634.70 160.00 L634.78 160.59 L634.85 161.11 L634.93 161.58 L635.01 162.00 L635.09 162.40 L635.17 162.78 L635.25 163.15 L635.34 163.52 L635.42 163.91 L635.51 164.33 L635.61 164.79 L635.70 165.30 L635.86 166.20 L636.02 167.20 L636.20 168.27 L636.38 169.41 L636.57 170.58 L636.77 171.77 L636.96 172.98 L637.15 174.17 L637.35 175.34 L637.54 176.46 L637.72 177.52 L637.90 178.50 L638.03 179.20 L638.16 179.89 L638.29 180.58 L638.42 181.25 L638.55 181.91 L638.68 182.56 L638.80 183.17 L638.93 183.77 L639.05 184.33 L639.17 184.86 L639.29 185.35 L639.40 185.80 L639.46 186.03 L639.52 186.24 L639.58 186.44 L639.64 186.63 L639.70 186.81 L639.76 186.98 L639.81 187.15 L639.87 187.32 L639.93 187.48 L639.98 187.65 L640.04 187.82 L640.10 188.00 L640.40 172.60 L640.43 174.47 L640.45 176.35 L640.48 178.23 L640.50 180.11 L640.53 181.99 L640.56 183.87 L640.58 185.75 L640.61 187.62 L640.63 189.48 L640.66 191.33 L640.68 193.17 L640.70 195.00 L640.72 196.72 L640.74 198.43 L640.76 200.12 L640.77 201.81 L640.79 203.49 L640.81 205.17 L640.82 206.84 L640.84 208.51 L640.85 210.17 L640.87 211.85 L640.88 213.52 L640.90 215.20 L641.07 215.39 L641.22 215.58 L641.37 215.77 L641.51 215.97 L641.66 216.17 L641.80 216.36 L641.96 216.55 L642.13 216.74 L642.31 216.92 L642.51 217.09 L642.74 217.25 L643.00 217.40 L643.53 217.64 L644.15 217.84 L644.84 218.01 L645.60 218.16 L646.40 218.29 L647.25 218.40 L648.13 218.49 L649.03 218.58 L649.93 218.66 L650.84 218.73 L651.73 218.81 L652.60 218.90 L653.57 219.00 L654.56 219.08 L655.55 219.15 L656.56 219.22 L657.58 219.28 L658.61 219.33 L659.65 219.38 L660.70 219.42 L661.76 219.47 L662.83 219.51 L663.91 219.55 L665.00 219.60 L666.29 219.65 L667.69 219.70 L669.17 219.75 L670.69 219.80 L672.22 219.84 L673.74 219.88 L675.20 219.93 L676.58 219.96 L677.84 220.00 L678.95 220.03 L679.88 220.07 L680.60 220.10 L680.77 220.11 L680.92 220.12 L681.06 220.13 L681.18 220.14 L681.29 220.14 L681.39 220.15 L681.49 220.16 L681.59 220.17 L681.69 220.18 L681.78 220.18 L681.89 220.19 L682.00 220.20" fill="none" stroke="#0000ff" stroke-width="2.0" stroke-linejoin="round" stroke-linecap="butt"/></g>
<g clip-path="url(#c3)"><path d="M504.00 220.20 L508.72 220.20 L511.42 220.20 M520.28 220.21 L523.31 220.22 L527.72 220.22 M536.58 220.23 L537.90 220.23 L542.62 220.24 L544.02 220.23 M552.88 220.22 L555.94 220.22 L560.00 220.20 L560.32 220.20 M569.18 220.17 L571.54 220.16 L574.32 220.15 L576.62 220.14 M585.48 220.04 L586.43 220.02 L588.33 219.97 L590.00 219.90 L590.66 219.87 L591.27 219.84 L591.84 219.81 L592.36 219.78 L592.86 219.74 L592.92 219.74 M601.78 218.10 L601.84 218.08 L602.27 217.98 L602.69 217.87 L603.12 217.75 L603.54 217.64 L603.96 217.51 L604.38 217.39 L604.79 217.25 L605.20 217.11 L605.60 216.96 L606.00 216.80 L606.38 216.64 L606.77 216.47 L607.15 216.29 L607.53 216.12 L607.90 215.93 L608.28 215.74 L608.64 215.54 L609.00 215.33 L609.22 215.19 M615.27 206.66 L615.31 206.54 L615.52 205.94 L615.72 205.31 L615.91 204.65 L616.10 203.97 L616.29 203.28 L616.47 202.57 L616.64 201.86 L616.81 201.15 L616.98 200.45 L617.14 199.77 L617.27 199.22 M619.03 190.36 L619.13 189.68 L619.24 189.00 L619.34 188.31 L619.44 187.62 L619.54 186.94 L619.64 186.25 L619.73 185.58 L619.82 184.91 L619.91 184.25 L620.00 183.60 L620.08 183.03 L620.09 182.92 M621.12 174.06 L621.18 173.47 L621.24 172.87 L621.30 172.26 L621.35 171.64 L621.40 171.01 L621.45 170.36 L621.50 169.70 L621.55 168.85 L621.59 167.97 L621.63 167.05 L621.64 166.62 M621.95 157.76 L621.99 157.18 L622.04 156.51 L622.09 155.85 L622.14 155.20 L622.19 154.55 L622.24 153.90 L622.30 153.23 L622.35 152.55 L622.40 151.83 L622.45 151.09 L622.50 150.32 M622.93 141.46 L622.99 140.12 L623.04 138.64 L623.09 137.09 L623.15 135.48 L623.19 134.02 M623.41 125.16 L623.43 124.10 L623.50 120.46 L623.54 117.72 M623.68 108.86 L623.68 108.68 L623.75 104.57 L623.79 101.42 M623.93 92.56 L623.93 92.11 L624.00 88.00 L624.05 85.12 M624.20 76.26 L624.26 72.54 L624.32 68.82 M624.47 59.96 L624.54 55.77 L624.60 52.52 M624.74 43.66 L624.80 40.11 L624.87 36.22 M625.01 27.36 L625.02 26.58 L625.04 25.28 L625.06 24.08 L625.08 22.96 L625.10 21.91 L625.11 20.91 L625.13 19.94 L625.13 19.92" fill="none" stroke="#ff0000" stroke-width="2.2" stroke-linejoin="round" stroke-linecap="round"/></g>
<g clip-path="url(#c3)"><path d="M626.70 15.00 L626.70 16.05 L626.70 17.06 L626.70 18.03 L626.70 18.98 L626.70 19.22 M626.70 28.08 L626.70 31.50 L626.71 35.52 M626.72 44.38 L626.72 45.15 L626.72 50.44 L626.73 51.82 M626.74 60.68 L626.74 61.54 L626.75 67.17 L626.75 68.12 M626.77 76.98 L626.77 78.11 L626.79 83.23 L626.79 84.42 M626.82 93.28 L626.83 95.53 L626.84 99.22 L626.85 100.72 M626.90 109.58 L626.90 110.00 L626.92 113.48 L626.94 116.91 L626.94 117.02 M626.98 125.88 L626.99 126.82 L627.00 130.00 L627.01 132.56 L627.01 133.32 M627.04 142.18 L627.04 142.46 L627.04 144.84 L627.05 147.17 L627.05 149.45 L627.06 149.62 M627.10 158.48 L627.11 159.49 L627.13 160.92 L627.14 162.31 L627.16 163.66 L627.18 164.98 L627.19 165.92 M627.31 174.78 L627.32 175.35 L627.33 176.74 L627.34 178.15 L627.36 179.58 L627.37 181.00 L627.38 182.22 M627.53 191.08 L627.53 191.35 L627.55 191.99 L627.56 192.60 L627.58 193.20 L627.59 193.78 L627.61 194.34 L627.64 194.89 L627.67 195.43 L627.70 195.96 L627.75 196.48 L627.80 197.00 L627.84 197.41 L627.88 197.82 L627.92 198.23 L627.95 198.52 M633.69 207.34 L633.95 207.58 L634.30 207.90 L634.65 208.20 L635.00 208.50 L635.34 208.78 L635.69 209.05 L636.06 209.33 L636.43 209.61 L636.81 209.88 L637.18 210.14 L637.54 210.39 L637.90 210.63 L638.23 210.85 L638.55 211.06 L638.84 211.24 L639.10 211.40 L639.22 211.47 L639.34 211.54 L639.44 211.59 L639.55 211.65 L639.64 211.69 L639.74 211.74 L639.83 211.78 L639.92 211.82 L640.01 211.86 L640.11 211.91 L640.20 211.95 L640.30 212.00 L640.33 211.17 M640.62 204.29 L640.76 211.73 M641.89 219.63 L642.49 219.65 L644.07 219.70 L645.64 219.76 L647.22 219.81 L648.79 219.87 L649.33 219.89 M658.19 220.16 L658.36 220.16 L660.00 220.20 L661.78 220.23 L663.58 220.26 L665.39 220.28 L665.63 220.28 M674.49 220.35 L674.61 220.35 L676.46 220.36 L678.32 220.37 L680.16 220.38 L681.93 220.40" fill="none" stroke="#ff0000" stroke-width="2.2" stroke-linejoin="round" stroke-linecap="round"/></g>
<g clip-path="url(#c3)"><path d="M504.00 219.30 L504.67 219.31 M512.23 219.53 L512.43 219.53 L513.31 219.54 L514.17 219.53 L514.37 219.52 M521.93 218.81 L522.00 218.80 L522.80 218.70 L523.62 218.60 L524.07 218.53 M531.63 217.49 L532.40 217.40 L533.24 217.30 L533.77 217.24 M541.33 216.54 L541.57 216.53 L542.40 216.50 L543.21 216.48 L543.47 216.48 M551.03 216.75 L551.19 216.75 L552.00 216.80 L552.83 216.85 L553.17 216.87 M560.73 217.49 L561.18 217.53 L562.00 217.60 L562.77 217.67 L562.87 217.68 M570.43 218.36 L571.00 218.40 L571.82 218.45 L572.57 218.50 M580.13 218.80 L580.18 218.80 L581.00 218.80 L581.77 218.80 L582.27 218.79 M589.83 218.42 L590.00 218.40 L590.54 218.33 L591.07 218.26 L591.59 218.17 L591.97 218.11" fill="none" stroke="#00ff00" stroke-width="2.2" stroke-linejoin="round" stroke-linecap="round"/></g>
<g clip-path="url(#c3)"><path d="M599.76 215.98 L600.10 215.82 L600.50 215.62 L600.90 215.40 L601.35 215.12 L601.79 214.81 L601.90 214.73 M608.81 207.57 L609.00 207.28 L609.25 206.85 L609.50 206.40 L609.79 205.82 L609.96 205.43 M612.32 197.87 L612.42 197.49 L612.63 196.66 L612.83 195.82 L612.85 195.73 M614.37 188.17 L614.40 188.00 L614.53 187.15 L614.66 186.30 L614.69 186.03 M615.53 178.47 L615.60 177.80 L615.69 176.99 L615.76 176.33 M616.55 168.77 L616.60 168.20 L616.67 167.38 L616.74 166.63 M617.33 159.07 L617.33 158.99 L617.40 157.90 L617.45 156.93 M617.82 149.37 L617.92 147.23 M618.22 139.67 L618.31 137.53 M618.60 129.97 L618.60 129.81 L618.68 127.83 M618.99 120.27 L619.00 120.00 L619.08 118.13 M619.44 110.57 L619.50 109.50 L619.55 108.43 M619.92 100.87 L619.99 99.31 L620.01 98.73 M620.30 91.17 L620.31 91.01 L620.37 89.03 M620.56 81.47 L620.60 79.33 M620.73 71.77 L620.76 69.63 M620.87 62.07 L620.89 59.93 M620.97 52.37 L620.99 50.85 L620.99 50.23 M621.07 42.67 L621.08 40.53 M621.15 32.97 L621.17 31.53 L621.17 30.83 M621.24 23.27 L621.25 22.96 L621.25 21.91 L621.26 21.13" fill="none" stroke="#00ff00" stroke-width="2.2" stroke-linejoin="round" stroke-linecap="round"/></g>
<g clip-path="url(#c3)"><path d="M630.60 15.00 L630.60 15.06 M630.63 22.62 L630.64 22.96 L630.65 24.08 L630.65 24.76 M630.78 32.32 L630.82 34.46 M630.99 42.02 L631.04 44.16 M631.22 51.72 L631.28 53.86 M631.48 61.42 L631.48 61.49 L631.54 63.56 M631.75 71.12 L631.80 72.68 L631.82 73.26 M632.05 80.82 L632.12 82.96 M632.40 90.52 L632.45 91.93 L632.48 92.66 M632.79 100.22 L632.89 102.36 M633.24 109.92 L633.33 111.83 L633.34 112.06 M633.71 119.62 L633.82 121.76 M634.21 129.32 L634.30 131.00 L634.32 131.46 M634.76 139.02 L634.78 139.42 L634.84 140.19 L634.90 141.00 L634.91 141.16 M635.60 148.72 L635.64 149.11 L635.72 149.91 L635.80 150.70 L635.82 150.86 M636.61 158.42 L636.69 158.94 L636.80 159.60 L636.90 160.10 L637.00 160.56 M639.00 168.12 L639.02 168.21 L639.13 168.66 L639.25 169.12 L639.37 169.58 L639.48 170.04 L639.54 170.26 M639.86 163.18 L639.94 161.04 M640.21 153.48 L640.29 151.34 M640.44 158.22 L640.46 159.08 L640.49 160.36 M640.64 167.92 L640.66 169.15 L640.68 170.06 M640.86 177.62 L640.88 178.47 L640.91 179.76 M641.10 187.32 L641.14 188.58 L641.17 189.46 M641.52 197.02 L641.56 197.74 L641.66 199.08 L641.66 199.16 M642.27 206.72 L642.29 206.89 L642.39 208.19 L642.45 208.86 M644.93 216.42 L645.00 216.50 L645.30 216.77 L645.61 217.01 L645.94 217.21 L646.28 217.40 L646.65 217.56 L647.02 217.71 L647.06 217.72 M654.62 218.97 L655.51 219.01 L656.44 219.05 L656.76 219.06 M664.32 219.43 L664.98 219.45 L665.69 219.48 L666.41 219.51 L666.46 219.51 M674.02 219.77 L674.04 219.77 L675.17 219.81 L676.16 219.83" fill="none" stroke="#00ff00" stroke-width="2.2" stroke-linejoin="round" stroke-linecap="round"/></g>
<g clip-path="url(#c4)"><path d="M62.20 366.90 L63.42 366.55 L64.64 366.20 L65.85 365.84 L67.06 365.49 L68.27 365.14 L69.48 364.78 L70.69 364.43 L71.92 364.08 L73.14 363.73 L74.38 363.38 L75.63 363.04 L76.90 362.70 L78.27 362.34 L79.66 361.99 L81.06 361.65 L82.48 361.31 L83.90 360.97 L85.33 360.64 L86.76 360.30 L88.20 359.95 L89.63 359.60 L91.06 359.25 L92.49 358.88 L93.90 358.50 L95.31 358.11 L96.73 357.71 L98.14 357.30 L99.55 356.89 L100.96 356.48 L102.36 356.05 L103.77 355.62 L105.18 355.19 L106.58 354.75 L107.99 354.30 L109.39 353.85 L110.80 353.40 L112.23 352.94 L113.66 352.48 L115.11 352.01 L116.56 351.55 L118.00 351.07 L119.45 350.59 L120.88 350.11 L122.31 349.61 L123.71 349.10 L125.10 348.58 L126.46 348.05 L127.80 347.50 L129.01 346.98 L130.21 346.46 L131.40 345.93 L132.57 345.39 L133.74 344.84 L134.89 344.28 L136.02 343.71 L137.13 343.13 L138.23 342.54 L139.31 341.94 L140.37 341.33 L141.40 340.70 L142.33 340.12 L143.24 339.53 L144.15 338.93 L145.04 338.33 L145.91 337.71 L146.77 337.08 L147.61 336.45 L148.43 335.80 L149.23 335.15 L150.01 334.48 L150.77 333.79 L151.50 333.10 L152.16 332.44 L152.80 331.77 L153.43 331.09 L154.04 330.39 L154.63 329.69 L155.20 328.98 L155.76 328.26 L156.30 327.53 L156.83 326.80 L157.33 326.07 L157.82 325.33 L158.30 324.60 L158.73 323.91 L159.14 323.22 L159.53 322.53 L159.91 321.84 L160.27 321.14 L160.62 320.44 L160.96 319.73 L161.28 319.02 L161.60 318.30 L161.91 317.57 L162.21 316.84 L162.50 316.10 L162.79 315.34 L163.07 314.58 L163.33 313.81 L163.59 313.04 L163.83 312.27 L164.07 311.49 L164.29 310.70 L164.51 309.89 L164.71 309.07 L164.92 308.23 L165.11 307.38 L165.30 306.50 L165.52 305.41 L165.72 304.29 L165.91 303.14 L166.09 301.97 L166.25 300.78 L166.41 299.57 L166.56 298.34 L166.70 297.10 L166.83 295.85 L166.96 294.60 L167.08 293.35 L167.20 292.10 L167.32 290.75 L167.43 289.38 L167.53 287.99 L167.62 286.60 L167.71 285.19 L167.79 283.78 L167.86 282.37 L167.93 280.95 L168.00 279.53 L168.06 278.11 L168.13 276.70 L168.20 275.30 L168.27 273.91 L168.33 272.53 L168.39 271.15 L168.45 269.78 L168.51 268.41 L168.57 267.03 L168.62 265.65 L168.68 264.27 L168.73 262.87 L168.78 261.46 L168.84 260.04 L168.90 258.60 L168.97 257.02 L169.03 255.41 L169.10 253.79 L169.16 252.15 L169.23 250.51 L169.30 248.85 L169.36 247.19 L169.43 245.53 L169.50 243.86 L169.57 242.20 L169.63 240.55 L169.70 238.90 L169.75 240.55 L169.80 242.20 L169.85 243.86 L169.89 245.53 L169.94 247.19 L169.99 248.85 L170.04 250.51 L170.09 252.15 L170.14 253.79 L170.19 255.41 L170.24 257.02 L170.30 258.60 L170.35 260.04 L170.40 261.46 L170.45 262.87 L170.50 264.27 L170.55 265.65 L170.60 267.03 L170.65 268.41 L170.71 269.78 L170.77 271.16 L170.84 272.53 L170.92 273.91 L171.00 275.30 L171.09 276.70 L171.19 278.11 L171.29 279.52 L171.40 280.94 L171.51 282.35 L171.63 283.76 L171.75 285.17 L171.88 286.58 L172.00 287.97 L172.13 289.36 L172.27 290.74 L172.40 292.10 L172.53 293.37 L172.66 294.61 L172.79 295.84 L172.93 297.05 L173.06 298.26 L173.21 299.47 L173.35 300.68 L173.49 301.91 L173.64 303.14 L173.79 304.40 L173.95 305.68 L174.10 307.00 L174.28 308.57 L174.45 310.20 L174.62 311.87 L174.79 313.56 L174.96 315.28 L175.14 317.01 L175.33 318.74 L175.53 320.45 L175.74 322.15 L175.98 323.81 L176.23 325.43 L176.50 327.00 L176.76 328.34 L177.02 329.67 L177.30 330.99 L177.58 332.28 L177.88 333.57 L178.19 334.83 L178.51 336.08 L178.85 337.31 L179.19 338.51 L179.55 339.70 L179.92 340.86 L180.30 342.00 L180.64 342.97 L180.99 343.91 L181.34 344.84 L181.71 345.75 L182.08 346.65 L182.46 347.53 L182.85 348.40 L183.26 349.25 L183.67 350.10 L184.10 350.94 L184.54 351.77 L185.00 352.60 L185.45 353.40 L185.91 354.19 L186.39 354.98 L186.87 355.76 L187.36 356.53 L187.87 357.29 L188.38 358.04 L188.92 358.77 L189.46 359.48 L190.03 360.18 L190.60 360.85 L191.20 361.50 L191.79 362.11 L192.40 362.70 L193.01 363.27 L193.65 363.83 L194.29 364.37 L194.95 364.89 L195.62 365.40 L196.31 365.90 L197.01 366.37 L197.73 366.83 L198.46 367.27 L199.20 367.70 L200.01 368.13 L200.84 368.55 L201.69 368.94 L202.56 369.31 L203.44 369.66 L204.34 370.00 L205.25 370.32 L206.16 370.62 L207.09 370.91 L208.02 371.19 L208.96 371.45 L209.90 371.70 L210.89 371.94 L211.88 372.16 L212.88 372.36 L213.89 372.53 L214.90 372.69 L215.92 372.84 L216.96 372.98 L218.01 373.10 L219.08 373.23 L220.17 373.35 L221.27 373.47 L222.40 373.60 L223.78 373.75 L225.21 373.89 L226.67 374.02 L228.15 374.14 L229.66 374.25 L231.19 374.36 L232.73 374.46 L234.28 374.57 L235.82 374.67 L237.36 374.78 L238.89 374.89 L240.40 375.00" fill="none" stroke="#0000ff" stroke-width="2.0" stroke-linejoin="round" stroke-linecap="butt"/></g>
<g clip-path="url(#c5)"><path d="M283.00 414.60 L389.60 414.60 L389.63 412.13 L389.67 409.65 L389.70 407.17 L389.73 404.68 L389.77 402.19 L389.80 399.71 L389.83 397.23 L389.87 394.76 L389.90 392.30 L389.93 389.85 L389.97 387.42 L390.00 385.00 L390.03 382.70 L390.06 380.40 L390.09 378.09 L390.12 375.79 L390.16 373.50 L390.19 371.22 L390.22 368.96 L390.25 366.72 L390.29 364.51 L390.32 362.34 L390.36 360.20 L390.40 358.10 L390.44 356.32 L390.47 354.56 L390.51 352.83 L390.55 351.11 L390.59 349.42 L390.63 347.74 L390.67 346.09 L390.71 344.45 L390.76 342.84 L390.80 341.24 L390.85 339.66 L390.90 338.10 L390.94 336.75 L390.98 335.40 L391.02 334.06 L391.06 332.73 L391.10 331.42 L391.14 330.13 L391.19 328.85 L391.24 327.60 L391.29 326.38 L391.35 325.18 L391.42 324.02 L391.50 322.90 L391.56 322.04 L391.61 321.19 L391.66 320.34 L391.71 319.50 L391.76 318.68 L391.82 317.87 L391.89 317.10 L391.97 316.36 L392.07 315.65 L392.19 314.99 L392.33 314.37 L392.50 313.80 L392.62 313.46 L392.74 313.12 L392.88 312.77 L393.02 312.44 L393.17 312.11 L393.32 311.81 L393.48 311.53 L393.64 311.29 L393.80 311.09 L393.97 310.94 L394.13 310.84 L394.30 310.80 L394.48 310.83 L394.66 310.93 L394.84 311.09 L395.03 311.31 L395.22 311.57 L395.42 311.87 L395.61 312.20 L395.81 312.55 L396.01 312.91 L396.21 313.28 L396.40 313.64 L396.60 314.00 L396.91 314.58 L397.22 315.22 L397.52 315.92 L397.83 316.66 L398.15 317.43 L398.46 318.23 L398.78 319.03 L399.10 319.84 L399.42 320.65 L399.74 321.43 L400.07 322.18 L400.40 322.90 L400.70 323.52 L401.00 324.13 L401.30 324.73 L401.59 325.31 L401.89 325.89 L402.19 326.46 L402.50 327.04 L402.82 327.61 L403.15 328.19 L403.48 328.78 L403.83 329.38 L404.20 330.00 L404.66 330.75 L405.14 331.52 L405.65 332.31 L406.17 333.10 L406.71 333.91 L407.26 334.72 L407.81 335.52 L408.36 336.33 L408.91 337.12 L409.45 337.90 L409.98 338.66 L410.50 339.40 L410.94 340.04 L411.38 340.67 L411.81 341.30 L412.24 341.92 L412.67 342.53 L413.09 343.14 L413.52 343.74 L413.94 344.32 L414.37 344.91 L414.81 345.48 L415.25 346.04 L415.70 346.60 L416.13 347.11 L416.56 347.62 L416.99 348.12 L417.43 348.61 L417.87 349.09 L418.31 349.57 L418.76 350.04 L419.20 350.50 L419.65 350.96 L420.10 351.41 L420.55 351.86 L421.00 352.30 L421.43 352.71 L421.85 353.12 L422.28 353.52 L422.71 353.92 L423.14 354.31 L423.57 354.69 L424.01 355.08 L424.44 355.45 L424.88 355.82 L425.32 356.19 L425.76 356.55 L426.20 356.90 L426.63 357.23 L427.05 357.56 L427.48 357.89 L427.91 358.21 L428.34 358.52 L428.77 358.83 L429.21 359.13 L429.64 359.43 L430.08 359.73 L430.52 360.02 L430.96 360.31 L431.40 360.60 L431.83 360.88 L432.27 361.15 L432.71 361.42 L433.15 361.68 L433.59 361.95 L434.04 362.20 L434.48 362.46 L434.92 362.71 L435.37 362.96 L435.81 363.21 L436.26 363.46 L436.70 363.70 L437.13 363.94 L437.56 364.17 L437.99 364.41 L438.43 364.64 L438.86 364.87 L439.29 365.10 L439.72 365.33 L440.15 365.55 L440.59 365.77 L441.02 365.98 L441.46 366.19 L441.90 366.40 L442.34 366.60 L442.77 366.80 L443.21 366.99 L443.66 367.17 L444.10 367.36 L444.54 367.54 L444.99 367.72 L445.43 367.90 L445.87 368.07 L446.32 368.25 L446.76 368.42 L447.20 368.60 L447.63 368.77 L448.05 368.94 L448.47 369.11 L448.88 369.28 L449.29 369.44 L449.71 369.61 L450.13 369.77 L450.56 369.94 L451.00 370.10 L451.45 370.27 L451.92 370.43 L452.40 370.60 L453.05 370.82 L453.73 371.03 L454.43 371.25 L455.16 371.46 L455.90 371.68 L456.65 371.90 L457.41 372.11 L458.18 372.33 L458.94 372.55 L459.71 372.77 L460.46 372.98 L461.20 373.20" fill="none" stroke="#0000ff" stroke-width="2.0" stroke-linejoin="round" stroke-linecap="butt"/></g>
<g clip-path="url(#c6)"><path d="M503.90 412.90 L504.82 412.95 L505.72 413.00 L506.61 413.05 L507.49 413.10 L508.37 413.15 L509.26 413.20 L510.16 413.25 L511.08 413.30 L512.02 413.35 L512.98 413.40 L513.97 413.45 L515.00 413.50 L516.40 413.56 L517.84 413.63 L519.32 413.69 L520.85 413.76 L522.41 413.82 L524.00 413.89 L525.61 413.95 L527.26 414.01 L528.92 414.06 L530.60 414.11 L532.30 414.16 L534.00 414.20 L536.01 414.24 L538.04 414.27 L540.10 414.30 L542.18 414.33 L544.30 414.34 L546.44 414.36 L548.61 414.37 L550.82 414.38 L553.06 414.38 L555.33 414.39 L557.65 414.39 L560.00 414.40 L563.02 414.41 L566.30 414.42 L569.76 414.42 L573.35 414.43 L576.98 414.43 L580.60 414.43 L584.13 414.43 L587.50 414.42 L590.64 414.40 L593.48 414.38 L595.96 414.34 L598.00 414.30 L598.69 414.28 L599.33 414.27 L599.93 414.26 L600.49 414.25 L601.02 414.24 L601.51 414.23 L601.97 414.22 L602.41 414.19 L602.83 414.16 L603.23 414.12 L603.62 414.07 L604.00 414.00 L604.23 413.96 L604.46 413.91 L604.67 413.87 L604.87 413.83 L605.07 413.78 L605.26 413.73 L605.44 413.68 L605.62 413.61 L605.79 413.53 L605.96 413.44 L606.13 413.33 L606.30 413.20 L606.52 413.01 L606.73 412.80 L606.94 412.57 L607.14 412.31 L607.33 412.04 L607.52 411.75 L607.70 411.44 L607.88 411.11 L608.04 410.76 L608.20 410.39 L608.36 410.00 L608.50 409.60 L608.73 408.84 L608.92 408.01 L609.09 407.11 L609.23 406.14 L609.35 405.12 L609.45 404.05 L609.54 402.94 L609.62 401.79 L609.69 400.61 L609.76 399.42 L609.83 398.21 L609.90 397.00 L609.99 395.32 L610.06 393.57 L610.11 391.76 L610.14 389.89 L610.16 387.98 L610.17 386.02 L610.17 384.02 L610.17 381.98 L610.17 379.92 L610.17 377.83 L610.18 375.72 L610.20 373.60 L610.23 371.08 L610.25 368.59 L610.28 366.11 L610.31 363.61 L610.33 361.06 L610.36 358.46 L610.39 355.76 L610.41 352.94 L610.43 349.98 L610.46 346.85 L610.48 343.53 L610.50 340.00 L610.53 332.22 L610.56 322.83 L610.58 312.18 L610.59 300.67 L610.61 288.65 L610.62 276.51 L610.63 264.62 L610.65 253.36 L610.67 243.09 L610.71 234.19 L610.75 227.04 L610.80 222.00 L610.81 221.12 L610.83 220.34 L610.85 219.65 L610.86 219.04 L610.88 218.48 L610.90 217.97 L610.91 217.49 L610.93 217.02 L610.95 216.55 L610.97 216.07 L610.98 215.56 L611.00 215.00" fill="none" stroke="#0000ff" stroke-width="2.0" stroke-linejoin="round" stroke-linecap="butt"/></g>
<g clip-path="url(#c6)"><path d="M611.20 215.00 L611.22 215.56 L611.23 216.07 L611.25 216.55 L611.27 217.02 L611.28 217.49 L611.30 217.97 L611.32 218.48 L611.33 219.04 L611.35 219.65 L611.37 220.34 L611.38 221.12 L611.40 222.00 L611.46 227.15 L611.51 234.59 L611.56 243.91 L611.60 254.65 L611.64 266.39 L611.68 278.70 L611.74 291.13 L611.82 303.26 L611.92 314.64 L612.05 324.85 L612.21 333.45 L612.40 340.00 L612.48 341.93 L612.57 343.68 L612.66 345.27 L612.75 346.73 L612.85 348.08 L612.95 349.35 L613.05 350.57 L613.15 351.77 L613.26 352.96 L613.37 354.18 L613.48 355.45 L613.60 356.80 L613.72 358.20 L613.83 359.61 L613.94 361.02 L614.06 362.44 L614.18 363.85 L614.30 365.26 L614.43 366.67 L614.57 368.07 L614.71 369.47 L614.86 370.86 L615.02 372.23 L615.20 373.60 L615.37 374.90 L615.55 376.20 L615.72 377.50 L615.91 378.80 L616.10 380.09 L616.29 381.38 L616.50 382.65 L616.73 383.91 L616.97 385.14 L617.22 386.35 L617.50 387.54 L617.80 388.70 L618.07 389.69 L618.34 390.68 L618.62 391.66 L618.91 392.63 L619.21 393.58 L619.52 394.51 L619.85 395.43 L620.20 396.32 L620.58 397.18 L620.99 398.02 L621.43 398.83 L621.90 399.60 L622.36 400.27 L622.83 400.93 L623.33 401.56 L623.85 402.17 L624.40 402.76 L624.96 403.33 L625.54 403.88 L626.13 404.40 L626.75 404.91 L627.38 405.39 L628.03 405.86 L628.70 406.30 L629.43 406.74 L630.18 407.15 L630.96 407.53 L631.75 407.89 L632.57 408.22 L633.41 408.53 L634.26 408.82 L635.13 409.10 L636.01 409.36 L636.90 409.62 L637.79 409.86 L638.70 410.10 L639.72 410.35 L640.74 410.58 L641.77 410.79 L642.81 410.98 L643.86 411.15 L644.94 411.31 L646.04 411.46 L647.17 411.59 L648.34 411.72 L649.54 411.85 L650.80 411.97 L652.10 412.10 L654.22 412.27 L656.67 412.43 L659.36 412.57 L662.21 412.69 L665.13 412.80 L668.04 412.90 L670.87 412.99 L673.51 413.06 L675.91 413.13 L677.96 413.19 L679.58 413.25 L680.70 413.30 L680.87 413.31 L681.01 413.32 L681.14 413.33 L681.26 413.34 L681.36 413.35 L681.46 413.35 L681.54 413.36 L681.63 413.37 L681.71 413.38 L681.80 413.38 L681.90 413.39 L682.00 413.40" fill="none" stroke="#0000ff" stroke-width="2.0" stroke-linejoin="round" stroke-linecap="butt"/></g>
<line x1="62.20" y1="124.70" x2="240.10" y2="124.70" stroke="#111" stroke-width="1.35" stroke-dasharray="1.95 3.58" stroke-dashoffset="0.65"/>
<line x1="62.20" y1="376.00" x2="240.10" y2="376.00" stroke="#111" stroke-width="1.35" stroke-dasharray="1.95 3.58" stroke-dashoffset="0.65"/>
<line x1="62.20" y1="60.22" x2="70.20" y2="60.22" stroke="#000" stroke-width="1.5"/>
<line x1="232.10" y1="60.22" x2="240.10" y2="60.22" stroke="#000" stroke-width="1.5"/>
<line x1="62.20" y1="124.65" x2="70.20" y2="124.65" stroke="#000" stroke-width="1.5"/>
<line x1="232.10" y1="124.65" x2="240.10" y2="124.65" stroke="#000" stroke-width="1.5"/>
<line x1="62.20" y1="189.08" x2="70.20" y2="189.08" stroke="#000" stroke-width="1.5"/>
<line x1="232.10" y1="189.08" x2="240.10" y2="189.08" stroke="#000" stroke-width="1.5"/>
<line x1="62.20" y1="92.43" x2="66.40" y2="92.43" stroke="#000" stroke-width="1.5"/>
<line x1="235.90" y1="92.43" x2="240.10" y2="92.43" stroke="#000" stroke-width="1.5"/>
<line x1="62.20" y1="156.87" x2="66.40" y2="156.87" stroke="#000" stroke-width="1.5"/>
<line x1="235.90" y1="156.87" x2="240.10" y2="156.87" stroke="#000" stroke-width="1.5"/>
<line x1="283.10" y1="55.61" x2="291.10" y2="55.61" stroke="#000" stroke-width="1.5"/>
<line x1="453.00" y1="55.61" x2="461.00" y2="55.61" stroke="#000" stroke-width="1.5"/>
<line x1="283.10" y1="110.84" x2="291.10" y2="110.84" stroke="#000" stroke-width="1.5"/>
<line x1="453.00" y1="110.84" x2="461.00" y2="110.84" stroke="#000" stroke-width="1.5"/>
<line x1="283.10" y1="166.07" x2="291.10" y2="166.07" stroke="#000" stroke-width="1.5"/>
<line x1="453.00" y1="166.07" x2="461.00" y2="166.07" stroke="#000" stroke-width="1.5"/>
<line x1="283.10" y1="83.23" x2="287.30" y2="83.23" stroke="#000" stroke-width="1.5"/>
<line x1="456.80" y1="83.23" x2="461.00" y2="83.23" stroke="#000" stroke-width="1.5"/>
<line x1="283.10" y1="138.46" x2="287.30" y2="138.46" stroke="#000" stroke-width="1.5"/>
<line x1="456.80" y1="138.46" x2="461.00" y2="138.46" stroke="#000" stroke-width="1.5"/>
<line x1="283.10" y1="193.69" x2="287.30" y2="193.69" stroke="#000" stroke-width="1.5"/>
<line x1="456.80" y1="193.69" x2="461.00" y2="193.69" stroke="#000" stroke-width="1.5"/>
<line x1="503.90" y1="124.65" x2="511.90" y2="124.65" stroke="#000" stroke-width="1.5"/>
<line x1="673.80" y1="124.65" x2="681.80" y2="124.65" stroke="#000" stroke-width="1.5"/>
<line x1="503.90" y1="76.33" x2="508.10" y2="76.33" stroke="#000" stroke-width="1.5"/>
<line x1="677.60" y1="76.33" x2="681.80" y2="76.33" stroke="#000" stroke-width="1.5"/>
<line x1="503.90" y1="172.98" x2="508.10" y2="172.98" stroke="#000" stroke-width="1.5"/>
<line x1="677.60" y1="172.98" x2="681.80" y2="172.98" stroke="#000" stroke-width="1.5"/>
<line x1="62.20" y1="298.58" x2="70.20" y2="298.58" stroke="#000" stroke-width="1.5"/>
<line x1="232.10" y1="298.58" x2="240.10" y2="298.58" stroke="#000" stroke-width="1.5"/>
<line x1="62.20" y1="375.86" x2="70.20" y2="375.86" stroke="#000" stroke-width="1.5"/>
<line x1="232.10" y1="375.86" x2="240.10" y2="375.86" stroke="#000" stroke-width="1.5"/>
<line x1="62.20" y1="259.94" x2="66.40" y2="259.94" stroke="#000" stroke-width="1.5"/>
<line x1="235.90" y1="259.94" x2="240.10" y2="259.94" stroke="#000" stroke-width="1.5"/>
<line x1="62.20" y1="337.22" x2="66.40" y2="337.22" stroke="#000" stroke-width="1.5"/>
<line x1="235.90" y1="337.22" x2="240.10" y2="337.22" stroke="#000" stroke-width="1.5"/>
<line x1="283.10" y1="317.90" x2="291.10" y2="317.90" stroke="#000" stroke-width="1.5"/>
<line x1="453.00" y1="317.90" x2="461.00" y2="317.90" stroke="#000" stroke-width="1.5"/>
<line x1="283.10" y1="269.60" x2="287.30" y2="269.60" stroke="#000" stroke-width="1.5"/>
<line x1="456.80" y1="269.60" x2="461.00" y2="269.60" stroke="#000" stroke-width="1.5"/>
<line x1="283.10" y1="366.20" x2="287.30" y2="366.20" stroke="#000" stroke-width="1.5"/>
<line x1="456.80" y1="366.20" x2="461.00" y2="366.20" stroke="#000" stroke-width="1.5"/>
<line x1="503.90" y1="317.90" x2="511.90" y2="317.90" stroke="#000" stroke-width="1.5"/>
<line x1="673.80" y1="317.90" x2="681.80" y2="317.90" stroke="#000" stroke-width="1.5"/>
<line x1="503.90" y1="269.60" x2="508.10" y2="269.60" stroke="#000" stroke-width="1.5"/>
<line x1="677.60" y1="269.60" x2="681.80" y2="269.60" stroke="#000" stroke-width="1.5"/>
<line x1="503.90" y1="366.20" x2="508.10" y2="366.20" stroke="#000" stroke-width="1.5"/>
<line x1="677.60" y1="366.20" x2="681.80" y2="366.20" stroke="#000" stroke-width="1.5"/>
<rect x="62.20" y="28.00" width="177.90" height="386.50" fill="none" stroke="#000" stroke-width="1.5"/>
<line x1="62.20" y1="221.30" x2="240.10" y2="221.30" stroke="#000" stroke-width="1.5"/>
<line x1="91.85" y1="28.00" x2="91.85" y2="32.20" stroke="#000" stroke-width="1.5"/>
<line x1="91.85" y1="217.10" x2="91.85" y2="225.50" stroke="#000" stroke-width="1.5"/>
<line x1="91.85" y1="410.30" x2="91.85" y2="414.50" stroke="#000" stroke-width="1.5"/>
<line x1="121.50" y1="28.00" x2="121.50" y2="36.00" stroke="#000" stroke-width="1.5"/>
<line x1="121.50" y1="213.30" x2="121.50" y2="229.30" stroke="#000" stroke-width="1.5"/>
<line x1="121.50" y1="406.50" x2="121.50" y2="414.50" stroke="#000" stroke-width="1.5"/>
<line x1="151.15" y1="28.00" x2="151.15" y2="32.20" stroke="#000" stroke-width="1.5"/>
<line x1="151.15" y1="217.10" x2="151.15" y2="225.50" stroke="#000" stroke-width="1.5"/>
<line x1="151.15" y1="410.30" x2="151.15" y2="414.50" stroke="#000" stroke-width="1.5"/>
<line x1="180.80" y1="28.00" x2="180.80" y2="36.00" stroke="#000" stroke-width="1.5"/>
<line x1="180.80" y1="213.30" x2="180.80" y2="229.30" stroke="#000" stroke-width="1.5"/>
<line x1="180.80" y1="406.50" x2="180.80" y2="414.50" stroke="#000" stroke-width="1.5"/>
<line x1="210.45" y1="28.00" x2="210.45" y2="32.20" stroke="#000" stroke-width="1.5"/>
<line x1="210.45" y1="217.10" x2="210.45" y2="225.50" stroke="#000" stroke-width="1.5"/>
<line x1="210.45" y1="410.30" x2="210.45" y2="414.50" stroke="#000" stroke-width="1.5"/>
<rect x="283.10" y="28.00" width="177.90" height="386.50" fill="none" stroke="#000" stroke-width="1.5"/>
<line x1="283.10" y1="221.30" x2="461.00" y2="221.30" stroke="#000" stroke-width="1.5"/>
<line x1="312.75" y1="28.00" x2="312.75" y2="32.20" stroke="#000" stroke-width="1.5"/>
<line x1="312.75" y1="217.10" x2="312.75" y2="225.50" stroke="#000" stroke-width="1.5"/>
<line x1="312.75" y1="410.30" x2="312.75" y2="414.50" stroke="#000" stroke-width="1.5"/>
<line x1="342.40" y1="28.00" x2="342.40" y2="36.00" stroke="#000" stroke-width="1.5"/>
<line x1="342.40" y1="213.30" x2="342.40" y2="229.30" stroke="#000" stroke-width="1.5"/>
<line x1="342.40" y1="406.50" x2="342.40" y2="414.50" stroke="#000" stroke-width="1.5"/>
<line x1="372.05" y1="28.00" x2="372.05" y2="32.20" stroke="#000" stroke-width="1.5"/>
<line x1="372.05" y1="217.10" x2="372.05" y2="225.50" stroke="#000" stroke-width="1.5"/>
<line x1="372.05" y1="410.30" x2="372.05" y2="414.50" stroke="#000" stroke-width="1.5"/>
<line x1="401.70" y1="28.00" x2="401.70" y2="36.00" stroke="#000" stroke-width="1.5"/>
<line x1="401.70" y1="213.30" x2="401.70" y2="229.30" stroke="#000" stroke-width="1.5"/>
<line x1="401.70" y1="406.50" x2="401.70" y2="414.50" stroke="#000" stroke-width="1.5"/>
<line x1="431.35" y1="28.00" x2="431.35" y2="32.20" stroke="#000" stroke-width="1.5"/>
<line x1="431.35" y1="217.10" x2="431.35" y2="225.50" stroke="#000" stroke-width="1.5"/>
<line x1="431.35" y1="410.30" x2="431.35" y2="414.50" stroke="#000" stroke-width="1.5"/>
<rect x="503.90" y="28.00" width="177.90" height="386.50" fill="none" stroke="#000" stroke-width="1.5"/>
<line x1="503.90" y1="221.30" x2="681.80" y2="221.30" stroke="#000" stroke-width="1.5"/>
<line x1="533.55" y1="28.00" x2="533.55" y2="32.20" stroke="#000" stroke-width="1.5"/>
<line x1="533.55" y1="217.10" x2="533.55" y2="225.50" stroke="#000" stroke-width="1.5"/>
<line x1="533.55" y1="410.30" x2="533.55" y2="414.50" stroke="#000" stroke-width="1.5"/>
<line x1="563.20" y1="28.00" x2="563.20" y2="36.00" stroke="#000" stroke-width="1.5"/>
<line x1="563.20" y1="213.30" x2="563.20" y2="229.30" stroke="#000" stroke-width="1.5"/>
<line x1="563.20" y1="406.50" x2="563.20" y2="414.50" stroke="#000" stroke-width="1.5"/>
<line x1="592.85" y1="28.00" x2="592.85" y2="32.20" stroke="#000" stroke-width="1.5"/>
<line x1="592.85" y1="217.10" x2="592.85" y2="225.50" stroke="#000" stroke-width="1.5"/>
<line x1="592.85" y1="410.30" x2="592.85" y2="414.50" stroke="#000" stroke-width="1.5"/>
<line x1="622.50" y1="28.00" x2="622.50" y2="36.00" stroke="#000" stroke-width="1.5"/>
<line x1="622.50" y1="213.30" x2="622.50" y2="229.30" stroke="#000" stroke-width="1.5"/>
<line x1="622.50" y1="406.50" x2="622.50" y2="414.50" stroke="#000" stroke-width="1.5"/>
<line x1="652.15" y1="28.00" x2="652.15" y2="32.20" stroke="#000" stroke-width="1.5"/>
<line x1="652.15" y1="217.10" x2="652.15" y2="225.50" stroke="#000" stroke-width="1.5"/>
<line x1="652.15" y1="410.30" x2="652.15" y2="414.50" stroke="#000" stroke-width="1.5"/>
<text transform="translate(53.60 64.82) scale(0.97 1)" font-size="15.3" text-anchor="end">1</text>
<text transform="translate(53.60 129.25) scale(0.97 1)" font-size="15.3" text-anchor="end">0</text>
<text transform="translate(53.60 193.68) scale(0.97 1)" font-size="15.3" text-anchor="end">-1</text>
<text transform="translate(274.50 60.21) scale(0.97 1)" font-size="15.3" text-anchor="end">3</text>
<text transform="translate(274.50 115.44) scale(0.97 1)" font-size="15.3" text-anchor="end">2</text>
<text transform="translate(274.50 170.67) scale(0.97 1)" font-size="15.3" text-anchor="end">1</text>
<text transform="translate(274.50 225.90) scale(0.97 1)" font-size="15.3" text-anchor="end">0</text>
<text transform="translate(495.30 32.00) scale(0.97 1)" font-size="15.3" text-anchor="end">50</text>
<text transform="translate(495.30 129.25) scale(0.97 1)" font-size="15.3" text-anchor="end">25</text>
<text transform="translate(495.30 225.90) scale(0.97 1)" font-size="15.3" text-anchor="end">0</text>
<text transform="translate(53.60 303.18) scale(0.97 1)" font-size="15.3" text-anchor="end">1</text>
<text transform="translate(53.60 380.46) scale(0.97 1)" font-size="15.3" text-anchor="end">0</text>
<text transform="translate(274.50 322.50) scale(0.97 1)" font-size="15.3" text-anchor="end">1</text>
<text transform="translate(274.50 419.10) scale(0.97 1)" font-size="15.3" text-anchor="end">0</text>
<text transform="translate(495.30 322.50) scale(0.97 1)" font-size="15.3" text-anchor="end">10</text>
<text transform="translate(495.30 419.10) scale(0.97 1)" font-size="15.3" text-anchor="end">0</text>
<text transform="translate(62.20 434.00) scale(0.97 1)" font-size="15.3" text-anchor="middle">2000</text>
<text transform="translate(121.50 434.00) scale(0.97 1)" font-size="15.3" text-anchor="middle">2200</text>
<text transform="translate(180.80 434.00) scale(0.97 1)" font-size="15.3" text-anchor="middle">2400</text>
<text transform="translate(240.10 434.00) scale(0.97 1)" font-size="15.3" text-anchor="middle">2600</text>
<text transform="translate(283.10 434.00) scale(0.97 1)" font-size="15.3" text-anchor="middle">2000</text>
<text transform="translate(342.40 434.00) scale(0.97 1)" font-size="15.3" text-anchor="middle">2200</text>
<text transform="translate(401.70 434.00) scale(0.97 1)" font-size="15.3" text-anchor="middle">2400</text>
<text transform="translate(461.00 434.00) scale(0.97 1)" font-size="15.3" text-anchor="middle">2600</text>
<text transform="translate(503.90 434.00) scale(0.97 1)" font-size="15.3" text-anchor="middle">2000</text>
<text transform="translate(563.20 434.00) scale(0.97 1)" font-size="15.3" text-anchor="middle">2200</text>
<text transform="translate(622.50 434.00) scale(0.97 1)" font-size="15.3" text-anchor="middle">2400</text>
<text transform="translate(681.80 434.00) scale(0.97 1)" font-size="15.3" text-anchor="middle">2600</text>
<text transform="translate(143.50 14.10) scale(1.04 1)" font-size="17.2" text-anchor="middle">Re f [fm]</text>
<text transform="translate(364.10 14.40) scale(1.04 1)" font-size="17.2" text-anchor="middle">Im f [fm]</text>
<text transform="translate(592.10 12.70) scale(1.04 1)" font-size="17.2" text-anchor="middle">speed [fm]</text>
<text transform="translate(29.9 113) rotate(-90)" font-size="22.6" text-anchor="middle">(1/2,0)</text>
<text transform="translate(29.9 314) rotate(-90)" font-size="22.6" text-anchor="middle">(0,-1)</text>
<text x="329" y="459.5" font-size="20.6">s</text>
<text transform="translate(340.4 448.5) scale(0.86 1)" font-size="12.4">1/2</text>
<text x="361.0" y="459.5" font-size="20.6">[MeV]</text>
<path d="M581.0 192.7L589.3 200.9M589.3 192.7L581.0 200.9" stroke="#000" stroke-width="1.05" fill="none"/>
<text x="594.0" y="200.9" font-size="17.6">5</text>
<rect x="31.3" y="12.1" width="60.6" height="38.8" fill="#000"/>
<rect x="25.9" y="6.5" width="59.8" height="38.9" fill="#fff" stroke="#222" stroke-width="1"/>
<text x="31.5" y="34.8" font-size="20.8">J</text>
<text transform="translate(42.9 23.2) scale(0.9 1)" font-size="12.2">P</text>
<text x="50.0" y="34.8" font-size="20.4">=</text>
<text transform="translate(62.3 34.8) scale(0.9 1)" font-size="20.8">0</text>
<text transform="translate(73.2 24.6) scale(0.92 1)" font-size="12.2">+</text>
<line x1="301.3" y1="56.05" x2="339.8" y2="56.05" stroke="#0000ff" stroke-width="2"/>
<line x1="302.18" y1="76.2" x2="339.3" y2="76.2" stroke="#ff0000" stroke-width="2.2" stroke-linecap="round" stroke-dasharray="7.64 8.86"/>
<line x1="302.18" y1="95.85" x2="339.8" y2="95.85" stroke="#00ff00" stroke-width="2.2" stroke-linecap="round" stroke-dasharray="2.14 7.66"/>
<text transform="translate(343.90 61.90) scale(0.95 1)" font-size="16.0">D</text>
<text transform="translate(359.30 61.90) scale(1.18 1)" font-size="15.2" style="font-family:'Liberation Serif',serif">π</text>
<text transform="translate(343.90 81.80) scale(0.95 1)" font-size="16.0">D</text>
<text transform="translate(359.40 81.80) scale(1.12 1)" font-size="15.2" style="font-family:'Liberation Serif',serif">η</text>
<text transform="translate(343.90 101.20) scale(0.95 1)" font-size="16.0">D</text>
<text transform="translate(355.00 107.70) scale(0.95 1)" font-size="9.8">s</text>
<text transform="translate(364.40 101.20) scale(0.95 1)" font-size="16.0">K</text>
<line x1="363" y1="86.7" x2="376.8" y2="86.7" stroke="#000" stroke-width="1.5"/>
<line x1="300.3" y1="248.7" x2="337.9" y2="248.7" stroke="#0000ff" stroke-width="2"/>
<text transform="translate(342.00 254.10) scale(0.95 1)" font-size="16.0">D</text>
<text transform="translate(357.90 254.10) scale(0.95 1)" font-size="16.0">K</text>
<line x1="355.3" y1="239.9" x2="368.9" y2="239.9" stroke="#000" stroke-width="1.5"/>
</svg>
</body></html>
